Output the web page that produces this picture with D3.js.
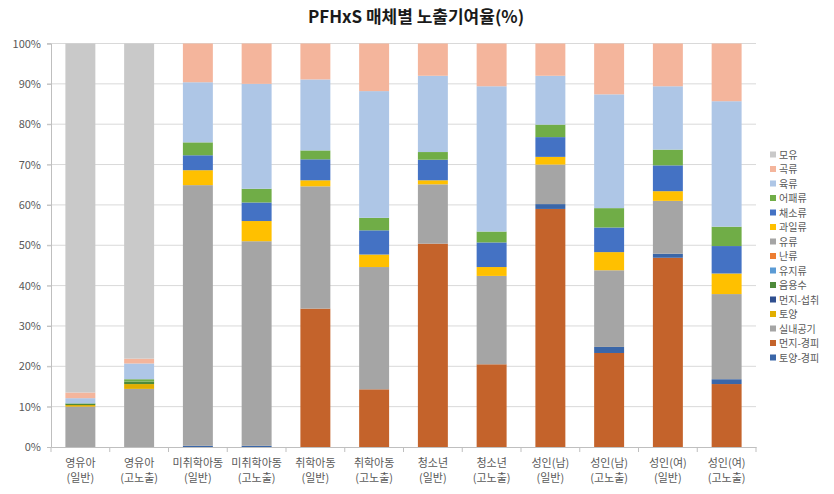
<!DOCTYPE html>
<html><head><meta charset="utf-8">
<script src="https://cdn.jsdelivr.net/npm/d3@7"></script>
<style>
body{margin:0;background:#fff;}
text{font-family:"Noto Sans CJK KR","Noto Sans",sans-serif;}
</style></head>
<body><svg id="c" width="834" height="494"></svg>
<script>
const categories = ["영유아|(일반)","영유아|(고노출)","미취학아동|(일반)","미취학아동|(고노출)","취학아동|(일반)","취학아동|(고노출)","청소년|(일반)","청소년|(고노출)","성인(남)|(일반)","성인(남)|(고노출)","성인(여)|(일반)","성인(여)|(고노출)"];
// series values (%) per category
const dustDermal   = [0,0,0,0,34.3,14.3,50.4,20.5,59.0,23.3,46.9,15.6];   // 먼지-경피
const soilDermal   = [0,0,0.3,0.3,0,0,0,0,1.2,1.5,1.0,1.2];               // 토양-경피
const indoorAir    = [10.0,14.4,64.6,50.7,30.3,30.3,14.7,21.9,9.8,19.0,13.1,21.1]; // 실내공기
const soil         = [0.4,1.2,0,0,0,0,0,0,0,0,0,0];                       // 토양
const dustIngest   = [0,0,0,0,0,0,0,0,0,0,0,0];                           // 먼지-섭취
const water        = [0.4,0.6,0,0,0,0,0,0,0,0,0,0];                       // 음용수
const oils         = [0,0,0,0,0,0,0,0,0,0,0,0];                           // 유지류
const eggs         = [0,0,0,0,0,0,0,0,0,0,0,0];                           // 난류
const dairy        = [0,0,0,0,0,0,0,0,0,0,0,0];                           // 유류
const fruits       = [0,0,3.7,5.0,1.5,3.1,1.0,2.2,1.9,4.5,2.4,5.1];        // 과일류
const vegetables   = [0,0,3.7,4.6,5.2,6.0,5.1,6.1,4.9,6.1,6.4,6.8];        // 채소류
const fish         = [0,0.6,3.2,3.4,2.2,3.1,1.9,2.7,3.1,4.8,3.9,4.8];      // 어패류
const meat         = [1.3,3.9,14.9,26.0,17.6,31.4,18.9,36.0,12.1,28.2,15.7,31.1]; // 육류
const grains       = [1.4,1.2,9.6,10.0,8.9,11.8,8.0,10.6,8.0,12.6,10.6,14.3]; // 곡류
const breastMilk   = [86.5,78.1,0,0,0,0,0,0,0,0,0,0];                     // 모유
const yTicks = [0,10,20,30,40,50,60,70,80,90,100];

const series = [
  {name:"먼지-경피", values:dustDermal, color:"#C4632B"},
  {name:"토양-경피", values:soilDermal, color:"#3A66A8"},
  {name:"실내공기", values:indoorAir, color:"#A5A5A5"},
  {name:"토양", values:soil, color:"#E2AE00"},
  {name:"먼지-섭취", values:dustIngest, color:"#2F4F8F"},
  {name:"음용수", values:water, color:"#4E8A3A"},
  {name:"유지류", values:oils, color:"#5B9BD5"},
  {name:"난류", values:eggs, color:"#ED7D31"},
  {name:"유류", values:dairy, color:"#A5A5A5"},
  {name:"과일류", values:fruits, color:"#FFC000"},
  {name:"채소류", values:vegetables, color:"#4472C4"},
  {name:"어패류", values:fish, color:"#70AD47"},
  {name:"육류", values:meat, color:"#AEC6E6"},
  {name:"곡류", values:grains, color:"#F4B59C"},
  {name:"모유", values:breastMilk, color:"#C9C9C9"}
];
const legendOrder = ["모유","곡류","육류","어패류","채소류","과일류","유류","난류","유지류","음용수","먼지-섭취","토양","실내공기","먼지-경피","토양-경피"];

const table = categories.map((c,i)=>{const r={cat:c}; series.forEach(s=>r[s.name]=s.values[i]); return r;});
const stacked = d3.stack().keys(series.map(s=>s.name))(table);
const colorOf = Object.fromEntries(series.map(s=>[s.name,s.color]));

const svg = d3.select("#c");
const L=51, R=756, T=43.5, B=447;
const x = d3.scaleBand().domain(categories).range([L,R]).paddingInner(0.49).paddingOuter(0.245);
const y = d3.scaleLinear().domain([0,100]).range([B,T]);

// title
svg.append("text").attr("x",416).attr("y",23).attr("text-anchor","middle")
  .attr("font-size",17).attr("font-weight","bold").attr("fill","#1a1a1a").text("PFHxS 매체별 노출기여율(%)");

// gridlines
svg.append("g").selectAll("line").data(yTicks.filter(d=>d>0)).join("line")
  .attr("x1",L-4).attr("x2",R).attr("y1",d=>y(d)).attr("y2",d=>y(d))
  .attr("stroke","#D9D9D9").attr("stroke-width",1);

// y axis
const ya = svg.append("g").attr("transform",`translate(${L},0)`)
  .call(d3.axisLeft(y).tickValues(yTicks).tickFormat(d=>d+"%").tickSize(4).tickPadding(6));
ya.select(".domain").attr("stroke","#BFBFBF");
ya.selectAll(".tick line").attr("stroke","#BFBFBF");
ya.selectAll("text").attr("font-size",11).attr("fill","#595959").attr("font-family","'Noto Sans','DejaVu Sans',sans-serif");

// bars
svg.append("g").selectAll("g").data(stacked).join("g").attr("fill",d=>colorOf[d.key])
  .selectAll("rect").data(d=>d).join("rect")
  .attr("x",d=>x(d.data.cat)).attr("width",x.bandwidth())
  .attr("y",d=>y(d[1])).attr("height",d=>Math.max(0,y(d[0])-y(d[1])));

// x axis
const xa = svg.append("g").attr("transform",`translate(0,${B})`)
  .call(d3.axisBottom(x).tickSize(0).tickPadding(10).tickFormat(""));
xa.select(".domain").attr("stroke","#BFBFBF");
const step = x.step();
svg.append("g").selectAll("line").data(d3.range(categories.length+1)).join("line")
  .attr("x1",i=>L+i*step).attr("x2",i=>L+i*step).attr("y1",B).attr("y2",B+5)
  .attr("stroke","#BFBFBF");
const xl = svg.append("g").selectAll("text").data(categories).join("text")
  .attr("x",d=>x(d)+x.bandwidth()/2).attr("text-anchor","middle")
  .attr("font-size",11).attr("fill","#595959");
xl.append("tspan").attr("x",d=>x(d)+x.bandwidth()/2).attr("y",467).text(d=>d.split("|")[0]);
xl.append("tspan").attr("x",d=>x(d)+x.bandwidth()/2).attr("y",482).text(d=>d.split("|")[1]);

// legend
const lg = svg.append("g").selectAll("g").data(legendOrder).join("g")
  .attr("transform",(d,i)=>`translate(770,${155+i*14.5})`);
lg.append("rect").attr("x",0).attr("y",-3.5).attr("width",6).attr("height",6).attr("fill",d=>colorOf[d]);
lg.append("text").attr("x",9).attr("y",3.5).attr("font-size",10).attr("fill","#595959").text(d=>d);
</script></body></html>
